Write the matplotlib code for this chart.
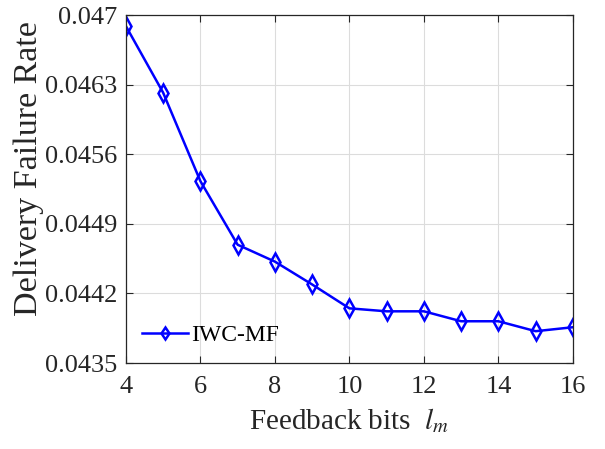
import glob
import matplotlib
matplotlib.use('Agg')
import matplotlib.pyplot as plt
from matplotlib import font_manager

for f in glob.glob('/usr/share/fonts/**/LiberationSerif*.ttf', recursive=True):
    font_manager.fontManager.addfont(f)

plt.rcParams['font.family'] = ['Liberation Serif', 'DejaVu Serif']
plt.rcParams['mathtext.fontset'] = 'stix'

# data
bits = [4, 5, 6, 7, 8, 9, 10, 11, 12, 13, 14, 15, 16]
failure_rate = [0.04689, 0.04622, 0.04533, 0.04469, 0.04452, 0.04429, 0.04405,
                0.04402, 0.04402, 0.04392, 0.04392, 0.04382, 0.04386]
xticks = [4, 6, 8, 10, 12, 14, 16]
yticks = [0.0435, 0.0442, 0.0449, 0.0456, 0.0463, 0.047]
ytick_labels = ['0.0435', '0.0442', '0.0449', '0.0456', '0.0463', '0.047']

fig = plt.figure(figsize=(6.05, 4.49), dpi=100)
ax = fig.add_axes([0.208, 0.1915, 0.739, 0.775])

ax.plot(bits, failure_rate, color='#0000ff', lw=1.8, marker='d', ms=9,
        mfc='none', mec='#0000ff', mew=1.8, label='IWC-MF')

ax.set_xlim(4, 16)
ax.set_ylim(0.0435, 0.047)
ax.set_xticks(xticks)
ax.set_yticks(yticks)
ax.set_yticklabels(ytick_labels)
ax.tick_params(direction='in', top=True, right=True, labelsize=19, length=5,
               colors='#262626', labelcolor='#262626')
ax.tick_params(axis='x', pad=9)
ax.tick_params(axis='y', pad=6)
ax.grid(True, color='#dcdcdc', lw=0.8)
for s in ax.spines.values():
    s.set_color('#262626')
    s.set_linewidth(0.9)

ax.set_xlabel(r'Feedback bits  $l_m$', fontsize=21, color='#262626', labelpad=6)
ax.set_ylabel('Delivery Failure Rate', fontsize=24.5, color='#262626', va='center')
ax.yaxis.set_label_coords(-0.218, 0.56)
leg = ax.legend(loc='lower left', frameon=False, fontsize=17, handlelength=1.95,
                handletextpad=0.1, borderaxespad=0.3, bbox_to_anchor=(0.0, 0.0))
leg.legend_handles[0].set_markersize(6)

fig.savefig('out.png', dpi=100)
